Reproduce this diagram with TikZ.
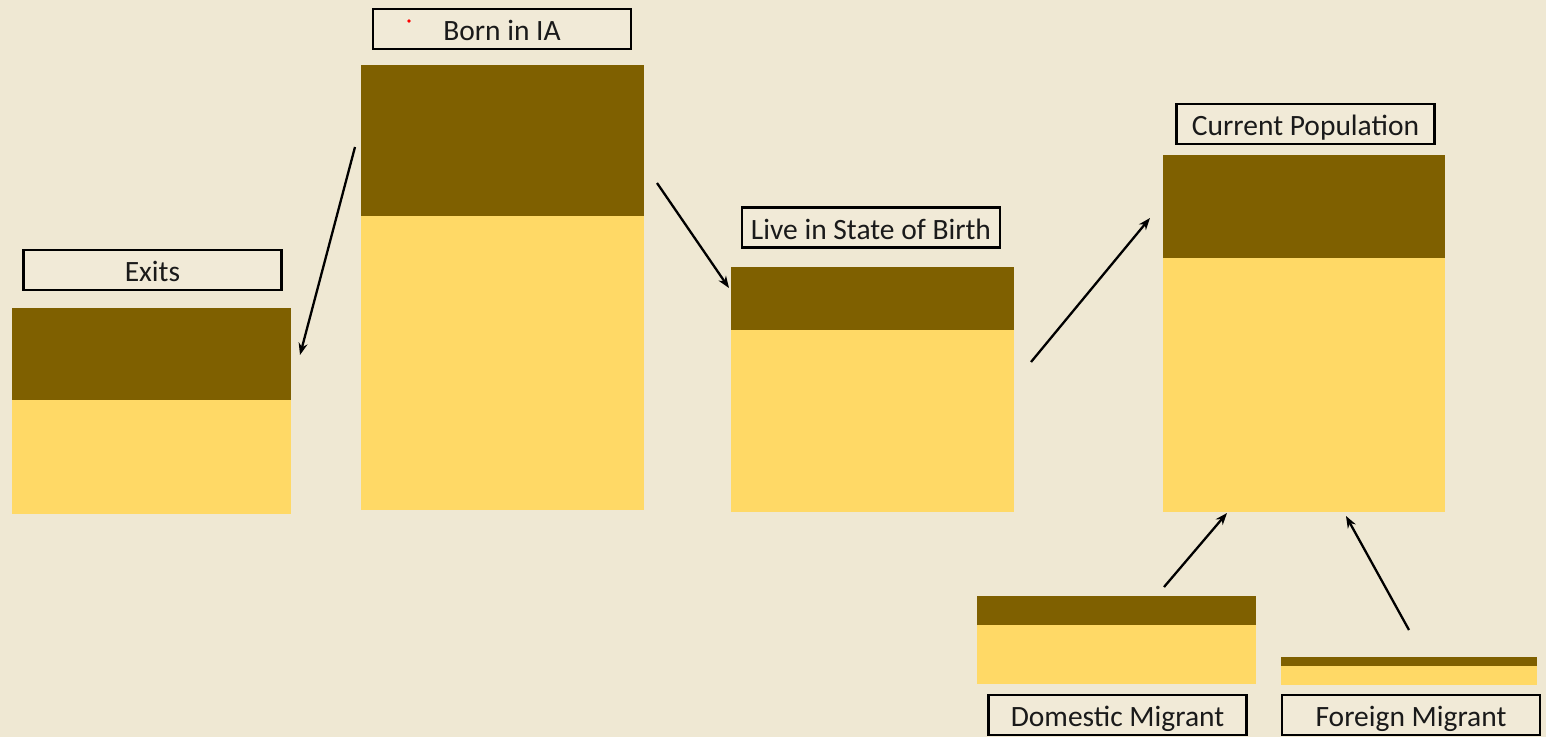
\documentclass[tikz,border=0pt]{standalone}
\usepackage{fontspec}
\setmainfont{Carlito}
\usetikzlibrary{arrows.meta}
\definecolor{bg}{HTML}{EFE8D3}
\definecolor{darkbar}{HTML}{7F6000}
\definecolor{lightbar}{HTML}{FFD966}
\definecolor{boxfill}{HTML}{F1EAD7}
\definecolor{txt}{HTML}{1A1A1A}
\tikzset{
  lbl/.style={draw=black, line width=2.6pt, fill=boxfill, minimum width=258pt, minimum height=40pt, inner sep=0pt, text height=23pt, text depth=0pt, text=txt, font=\fontsize{29.5}{31}\selectfont},
  darkpart/.style={fill=darkbar, draw=none, inner sep=0pt, anchor=north west},
  lightpart/.style={fill=lightbar, draw=none, inner sep=0pt, anchor=north west},
  flow/.style={line width=2.3pt, -{Stealth[length=12pt,width=9pt]}}
}
\begin{document}
\begin{tikzpicture}[x=1pt,y=-1pt]
\fill[bg] (0,0) rectangle (1546,737);
\useasboundingbox (0,0) rectangle (1546,737);

% Exits
\node[darkpart, minimum width=279pt, minimum height=92pt] (exitsD) at (12,308) {};
\node[lightpart, minimum width=279pt, minimum height=114pt] (exitsL) at (12,400) {};
\node[lbl] (exitsT) at (152.5,270) {Exits};

% Born in IA
\node[darkpart, minimum width=283pt, minimum height=151pt] (bornD) at (361,65) {};
\node[lightpart, minimum width=283pt, minimum height=294pt] (bornL) at (361,216) {};
\node[lbl] (bornT) at (502,29) {Born in IA};
\fill[red] (409,21) circle (1.8pt);

% Live in State of Birth
\node[darkpart, minimum width=283pt, minimum height=63pt] (liveD) at (731,267) {};
\node[lightpart, minimum width=283pt, minimum height=182pt] (liveL) at (731,330) {};
\node[lbl] (liveT) at (871,227.5) {Live in State of Birth};

% Current Population
\node[darkpart, minimum width=282pt, minimum height=103pt] (curD) at (1163,155) {};
\node[lightpart, minimum width=282pt, minimum height=254pt] (curL) at (1163,258) {};
\node[lbl] (curT) at (1305.5,124) {Current Population};

% Domestic Migrant
\node[darkpart, minimum width=279pt, minimum height=29pt] (domD) at (977,596) {};
\node[lightpart, minimum width=279pt, minimum height=59pt] (domL) at (977,625) {};
\node[lbl] (domT) at (1117.5,715) {Domestic Migrant};

% Foreign Migrant
\node[darkpart, minimum width=256pt, minimum height=9pt] (forD) at (1281,657) {};
\node[lightpart, minimum width=256pt, minimum height=19pt] (forL) at (1281,666) {};
\node[lbl] (forT) at (1411,715) {Foreign Migrant};

% connector end points
\coordinate (a1s) at (355,147);
\coordinate (a1e) at (300,355);
\coordinate (a2s) at (657,183);
\coordinate (a2e) at (729,288);
\coordinate (a3s) at (1031,362);
\coordinate (a3e) at (1150,218);
\coordinate (a4s) at (1164,587);
\coordinate (a4e) at (1227,513);
\coordinate (a5s) at (1409,630);
\coordinate (a5e) at (1346,516);

\draw[flow] (a1s) -- (a1e);
\draw[flow] (a2s) -- (a2e);
\draw[flow] (a3s) -- (a3e);
\draw[flow] (a4s) -- (a4e);
\draw[flow] (a5s) -- (a5e);
\end{tikzpicture}
\end{document}
